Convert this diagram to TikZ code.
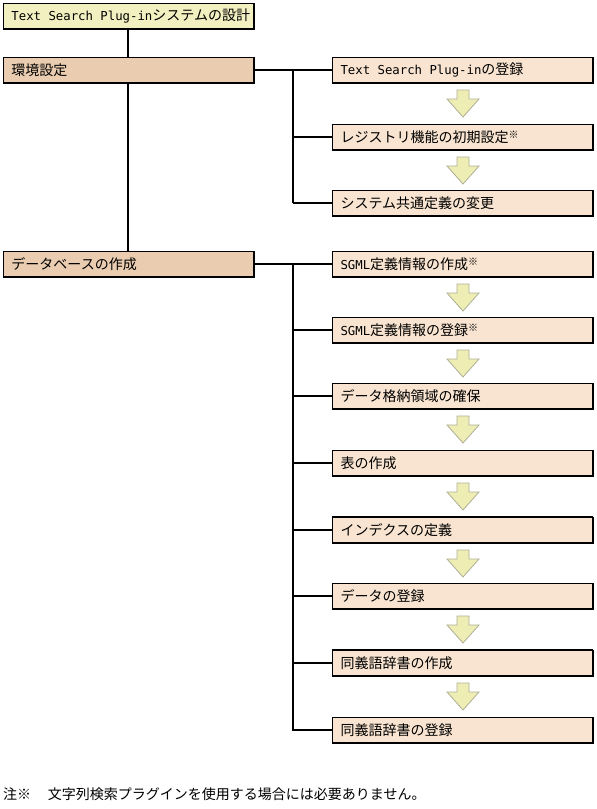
\documentclass[tikz,border=0pt]{standalone}
\usepackage{fontspec}
\setmainfont{Noto Sans CJK JP}
\newfontfamily\lat{DejaVu Sans Mono}[Scale=0.88]
\definecolor{topfill}{RGB}{242,240,192}
\definecolor{leftfill}{RGB}{234,205,176}
\definecolor{rightfill}{RGB}{248,228,208}
\definecolor{arrfill}{RGB}{238,238,180}
\definecolor{arredge}{RGB}{175,175,150}
\newcommand{\kome}{\raisebox{4pt}{\fontsize{10}{10}\selectfont ※}}
\tikzset{
  basebox/.style={draw=black, line width=1pt, anchor=north west, minimum height=25pt,
    inner xsep=8pt, inner ysep=0pt, font=\fontsize{14}{16}\selectfont},
  topbox/.style={basebox, fill=topfill, minimum width=250pt},
  leftbox/.style={basebox, fill=leftfill, minimum width=250pt},
  rightbox/.style={basebox, fill=rightfill, minimum width=260pt},
  conn/.style={line width=1.2pt, black},
  thickconn/.style={line width=2pt, black},
  blockarrow/.style={fill=arrfill, draw=arredge, line width=0.8pt},
}
\newcommand{\lw}[1]{\makebox[234pt][l]{#1}}
\newcommand{\rw}[1]{\makebox[244pt][l]{#1}}
\newcommand{\shadowedge}[1]{\draw[line width=2pt] ([xshift=-0.5pt]#1.north east) -- ([xshift=-0.5pt,yshift=0.5pt]#1.south east) -- ([yshift=0.5pt]#1.south west);}
\newcommand{\thicktop}[1]{\draw[line width=2pt] (#1.north west) -- (#1.north east);}
\newcommand{\stepdown}[1]{% #1 upper box
  \path ([yshift=-7pt]#1.south -| 463,0) coordinate (a1);
  \draw[blockarrow] ([xshift=-6pt]a1) -- ([xshift=6pt]a1) -- ([xshift=6pt,yshift=-9pt]a1) -- ([xshift=16pt,yshift=-9pt]a1)
     -- ([yshift=-27pt]a1) -- ([xshift=-16pt,yshift=-9pt]a1) -- ([xshift=-6pt,yshift=-9pt]a1) -- cycle;}
\begin{document}
\begin{tikzpicture}[x=1pt,y=-1pt]
\useasboundingbox (0,0) rectangle (597,809);
% left column
\node[topbox] (top) at (3,3) {\lw{{\lat Text Search Plug-in}システムの設計}};
\node[leftbox] (env) at (3,57) {\lw{環境設定}};
\node[leftbox] (db) at (3,251) {\lw{データベースの作成}};
% trunk
\draw[conn] (top.south -| 128,0) -- (env.north -| 128,0);
\draw[conn] (env.south -| 128,0) -- (db.north -| 128,0);
% right column group 1
\node[rightbox] (r1) at (332,57) {\rw{{\lat Text Search Plug-in}の登録}};
\node[rightbox] (r2) at (332,124) {\rw{レジストリ機能の初期設定\kome}};
\node[rightbox] (r3) at (332,190) {\rw{システム共通定義の変更}};
% group 2
\node[rightbox] (s1) at (332,251) {\rw{{\lat SGML}定義情報の作成\kome}};
\node[rightbox] (s2) at (332,317) {\rw{{\lat SGML}定義情報の登録\kome}};
\node[rightbox] (s3) at (332,383) {\rw{データ格納領域の確保}};
\node[rightbox] (s4) at (332,450) {\rw{表の作成}};
\node[rightbox] (s5) at (332,517) {\rw{インデクスの定義}};
\node[rightbox] (s6) at (332,583) {\rw{データの登録}};
\node[rightbox] (s7) at (332,650) {\rw{同義語辞書の作成}};
\node[rightbox] (s8) at (332,717) {\rw{同義語辞書の登録}};
\foreach \n in {top,env,db,r1,r2,r3,s1,s2,s3,s4,s5,s6,s7,s8} {\shadowedge{\n}}
\thicktop{s5}
\thicktop{s7}
% connectors group 1
\coordinate (b1) at (env.east -| 293,0);
\draw[conn] (env.east) -- (r1.west);
\draw[conn] (b1) -- (b1 |- r3.west);
\draw[thickconn] (b1 |- r3.west) -- (r3.west);
\draw[conn] (b1 |- r2.west) -- (r2.west);
% connectors group 2
\coordinate (b2) at (db.east -| 293,0);
\draw[conn] (db.east) -- (s1.west);
\draw[conn] (b2) |- (s8.west);
\foreach \n in {s2,s3,s4,s5,s6} {\draw[conn] (b2 |- \n.west) -- (\n.west);}
\draw[thickconn] (b2 |- s7.west) -- (s7.west);
% block arrows
\stepdown{r1}
\stepdown{r2}
\stepdown{s1}
\stepdown{s2}
\stepdown{s3}
\stepdown{s4}
\stepdown{s5}
\stepdown{s6}
\stepdown{s7}
% footnote
\node[anchor=base west, inner sep=0pt, font=\fontsize{14}{16}\selectfont] (note) at (3,799) {注※\hspace{1.2em}文字列検索プラグインを使用する場合には必要ありません。};
\end{tikzpicture}
\end{document}
